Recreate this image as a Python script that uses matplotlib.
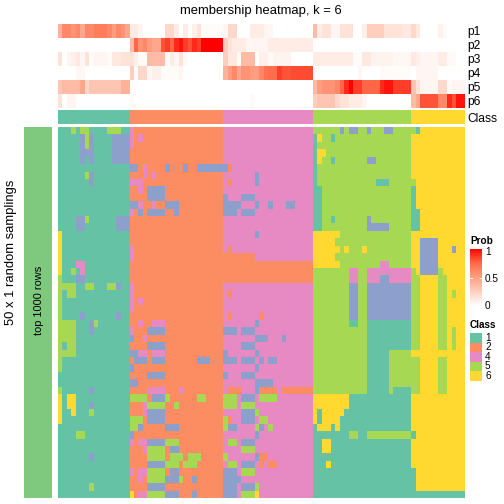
import numpy as np
import matplotlib
matplotlib.use("Agg")
import matplotlib.pyplot as plt
from matplotlib.colors import ListedColormap, LinearSegmentedColormap
from matplotlib.patches import Rectangle

plt.rcParams['font.family'] = ['Liberation Sans', 'DejaVu Sans']

# class colours (class 3 only shows up inside the samplings)
class_colors = {1: "#66C2A5", 2: "#FC8D62", 3: "#8DA0CB", 4: "#E78AC3", 5: "#A6D854", 6: "#FFD92F"}
legend_classes = [1, 2, 4, 5, 6]
class_sizes = [(1, 16), (2, 21), (4, 20), (5, 22), (6, 12)]   # columns per consensus class
prob_names = ["p1", "p2", "p3", "p4", "p5", "p6"]

# membership probabilities, split by class block
p1 = ([0.4, 0.6, 0.6, 0.55, 0.6, 0.45, 0.6, 0.6, 0.65, 0.65, 0.65, 0.6, 0.5, 0.6, 0.55, 0.45] +
      [0.1, 0.1, 0.05, 0, 0, 0, 0, 0, 0.2, 0.2, 0.1, 0, 0.1, 0, 0.08, 0.15, 0.02, 0.02, 0.02, 0.02, 0.02] +
      [0.05, 0.2, 0.2, 0, 0, 0, 0.1, 0.1, 0.1, 0.05, 0.05, 0, 0, 0, 0, 0, 0, 0, 0, 0] +
      [0.35, 0.1, 0.15, 0.15, 0.05, 0.05, 0.15, 0.15, 0.15, 0, 0, 0.08, 0.25, 0.25, 0.25, 0.25, 0.15, 0.15, 0.15, 0.15, 0.12, 0.12] +
      [0.2, 0.12, 0, 0, 0, 0, 0.07, 0.03, 0, 0, 0, 0])
p2 = ([0] * 16 +
      [0.35, 0.75, 0.55, 0.6, 0.5, 0.45, 0.45, 0.8, 0.85, 0.75, 0.9, 0.95, 0.85, 0.8, 0.9, 0.85, 1, 1, 1, 1, 1] +
      [0.25, 0.15, 0.1, 0.1, 0.1, 0.05, 0.05, 0.05, 0.05, 0.05, 0.1, 0.1, 0.1, 0.1, 0.1, 0.1, 0.1, 0.1, 0.1, 0.1] +
      [0] * 22 +
      [0] * 12)
p3 = ([0.15, 0, 0.05, 0.08, 0.12, 0.05, 0.15, 0.02, 0.05, 0.05, 0.05, 0.02, 0.12, 0.12, 0.15, 0.15] +
      [0.15, 0.08, 0.02, 0.02, 0.35, 0.35, 0.35, 0.35, 0.03, 0.1, 0.05, 0.15, 0.03, 0, 0, 0, 0, 0, 0, 0, 0] +
      [0.25, 0.12, 0.12, 0.03, 0.35, 0.35, 0.35, 0, 0.08, 0.08, 0.03, 0.06, 0.06, 0.06, 0.06, 0, 0, 0, 0, 0] +
      [0.1, 0.1, 0.1, 0.1, 0.1, 0.1, 0.1, 0.1, 0.1, 0.02, 0.02, 0.12, 0.12, 0.06, 0.06, 0.06, 0.06, 0.06, 0.04, 0.04, 0.04, 0.04] +
      [0.12, 0.08, 0.05, 0.05, 0.05, 0.05, 0.1, 0.1, 0.03, 0.03, 0, 0])
p4 = ([0, 0, 0, 0, 0.04, 0.04, 0, 0, 0, 0, 0, 0, 0, 0, 0, 0] +
      [0.25, 0.02, 0.2, 0.2, 0.05, 0.08, 0.08, 0.02, 0.02, 0.02, 0.02, 0.05, 0, 0, 0, 0, 0, 0, 0, 0, 0] +
      [0.4, 0.5, 0.6, 0.45, 0.55, 0.55, 0.5, 0.5, 0.6, 0.7, 0.72, 0.72, 0.85, 0.8, 0.8, 0.82, 0.82, 0.82, 0.82, 0.82] +
      [0, 0, 0, 0, 0, 0, 0, 0, 0, 0, 0.04, 0, 0, 0, 0, 0.02, 0.02, 0.02, 0.02, 0.02, 0.02, 0.02] +
      [0, 0.05, 0.05, 0.05, 0.05, 0.05, 0, 0, 0, 0, 0, 0])
p5 = ([0.3, 0.35, 0.35, 0.35, 0.35, 0.45, 0.2, 0.3, 0.3, 0.3, 0.3, 0.3, 0.3, 0.3, 0.4, 0.4] +
      [0] * 21 +
      [0] * 20 +
      [0.35, 0.5, 0.55, 0.55, 0.55, 0.6, 0.75, 0.9, 1.0, 0.85, 0.85, 0.75, 0.75, 0.75, 0.75, 0.9, 0.95, 0.95, 0.85, 0.85, 0.85, 0.85] +
      [0.3, 0.15, 0.05, 0.05, 0.05, 0.05, 0.2, 0.2, 0.02, 0.05, 0.05, 0.05])
p6 = ([0.15, 0, 0.05, 0.05, 0, 0, 0, 0, 0, 0, 0, 0, 0, 0, 0, 0] +
      [0.02] + [0] * 20 +
      [0, 0, 0, 0, 0, 0, 0.03, 0, 0, 0, 0, 0, 0, 0, 0, 0, 0, 0, 0, 0] +
      [0.25, 0.3, 0.3, 0.3, 0.3, 0.2, 0.15, 0.15, 0.1, 0.1, 0.1, 0.05, 0, 0, 0, 0, 0, 0, 0, 0, 0, 0] +
      [0.35, 0.45, 0.8, 0.8, 0.8, 0.8, 0.6, 0.6, 0.9, 0.8, 0.95, 0.95])

# class calls of the 50 random samplings (one string per sampling, blocks split by spaces)
samplings = [
    "1115155111155511 422222222222222222222 44444444444444444444 5555553533553555335555 516666666666",
    "1111135311113333 424222222222222222222 44444444444444444444 1655155555555555555555 666666666666",
    "1111135311113333 422222222222222222222 44444444444444444444 1555555555555555555555 666666666666",
    "1111133311113333 222222222222222222222 44444444444444444444 1665555555555555555555 666666666666",
    "1111131311113333 222222222222222222222 44444444444444444444 1655155555553355555555 666666666666",
    "1111111111111111 332422223222322333333 32444444444444444444 1555555555555555555555 666666666666",
    "1111115311111111 222424222222222222222 44444443444444444444 1555555555555555555555 666666666666",
    "1111111311111111 444222222222222222222 42444443444444444444 1555555555555511155555 566666666666",
    "1111111111111111 224233332222222222222 44444444444444444444 1155555555555555555555 166666666666",
    "1111111111111111 222233332222222222222 34443334444444444444 1155555555555555555555 166666666666",
    "1111111111111111 334224223332222222222 33334443443444334444 1155555555555555555555 166666666666",
    "1111111111111111 423233332232222222222 33343334444444444444 1155555555555555555555 116666666666",
    "1111335111111333 222222222222222222222 44444444444444444444 1155155555553555555555 116666666666",
    "1111331111111333 222222222222222222222 44444444444444444444 1155555555553333355555 116666666666",
    "6111111111111111 222222222222222222222 44444443444444444444 6666665555555555555555 666666666666",
    "6111111111111111 222222222222222222222 44444444444444444444 6666655555555555555555 663333666666",
    "6111111111111111 422222222222222222222 42444444444444444444 6666665655565555555555 663333666366",
    "6111111111111111 422222222222222222222 22222224444444444444 6666655555555555555555 663333666666",
    "6111441111111111 222222222222222222222 22222222222222222222 6666665555555554455555 663333666666",
    "6115141111111111 222222222222222222222 22222222222222222222 5555555544554444444444 563333566666",
    "5111331111111111 222222222222222222222 22222222222222222222 5555555544554443344444 556666556666",
    "5555115511155311 422222222222222222222 44444444444444444444 5555555533553333333333 556666556666",
    "5155111111111111 422222222222222222222 42444444444444444444 5555555533553333333333 556666556566",
    "5111111111111111 424222222222222222222 44444444444444444444 5555555533553333333333 556666556666",
    "5111111111111111 422222222222222222222 44444444444444444444 5555555533553333333333 556666556666",
    "5111131111111311 222222222222222222222 42444444244444444444 5555555533553333333333 556666556666",
    "5555111351111111 224224442222222222222 44444443444444444444 5555555511551111111111 556666556666",
    "5555111311111111 422233332222222222222 33343334444444444444 5555555555551111111111 556666556566",
    "5555111111111111 322422222222222222222 44444443334443444444 5555555555551111111111 556666556566",
    "5155111111111111 222233332222222222222 44443334444444444444 5555555555551111111111 556666556566",
    "5555111111111111 334424442222222222222 34444443444444444444 5555555555551111155555 666666666666",
    "5111111111111111 233323332222222333222 33343334343344444444 5555555555551111155555 556666556666",
    "5111111111111111 322222222222222222222 44444443444444444444 5555555555551111155555 556666556666",
    "1111111111111111 222233332222222222222 34443334444444444444 5555555555551111155555 556666556666",
    "1111111111111111 332222222222222222222 44444443333444444444 5555555555551111155555 556666556666",
    "5111111311111111 222244442224222222222 42224443222242222222 5555555555551111151111 556666556666",
    "6166111111111111 555523335222222552222 55543334555544444444 6666666611111111111111 666666666666",
    "6166111311111111 222455552252222222222 55545554444444444444 6666666611111111111111 666666666666",
    "6116111511111111 222433332222222222222 44443335444444444444 6166666111111111111111 666666666666",
    "6111111111111111 555233332222222222222 52443334554444444444 6166661111111111111111 666666666666",
    "1111111111111111 553222223332222222222 53344445345444444444 1666161111111111111111 666666666666",
    "1111551111111111 322222222222222222222 44444443444444444444 1111111155115555555555 166666666666",
    "1111111111111111 424433335552222222222 45543334444444444444 1166111111111111111111 666666666666",
    "1111111111111111 222455552332222222222 44445554444444444444 1166111111111111111111 666666666666",
    "1111111311111111 222255552555255522222 54444443224444444444 1111111111111111111111 666666666666",
    "1111111111111111 222233335552555222222 45543334242244444444 1116111111111111111111 666666666666",
    "1111111111111111 424455552332222222222 33345554444444444444 1111111111111111111111 166666666666",
    "1111111111111111 224255553335223222222 33334444444444444444 1111111111111111111111 166666666666",
    "1111111511111111 222233332222222222222 33343335444444444444 1111111111111111111111 166666666666",
    "1111111111111111 624455553332223222222 33345556444444444444 1111111111111111111111 111111111111",
]

# ---- build arrays
n_col = sum(n for _, n in class_sizes)
col_class = np.concatenate([[k] * n for k, n in class_sizes])
prob = np.array([p1, p2, p3, p4, p5, p6], dtype=float)
rows = []
for s in samplings:
    r = [int(c) for c in s.replace(" ", "")]
    if len(r) != n_col:
        print("row length", len(r))
        r = (r + [r[-1]] * n_col)[:n_col]
    rows.append(r)
grid = np.array(rows)

cls_cmap = ListedColormap([class_colors[k] for k in range(1, 7)])
prob_cmap = LinearSegmentedColormap.from_list(
    "prob", [(0, "#FFFFFF"), (0.25, "#FFCFBF"), (0.5, "#FF9E81"), (0.75, "#FF6846"), (1, "#FF0000")])

W = H = 504.0
fig = plt.figure(figsize=(7, 7), dpi=72)


def box(x0, y0, x1, y1):
    # pixel box (top-left origin) -> figure fraction rect
    return [x0 / W, 1 - y1 / H, (x1 - x0) / W, (y1 - y0) / H]


def clean(ax):
    ax.set_xticks([])
    ax.set_yticks([])
    for s in ax.spines.values():
        s.set_visible(False)


# membership heatmap
ax_mem = fig.add_axes(box(58, 24, 464, 108))
ax_mem.imshow(prob, cmap=prob_cmap, vmin=0, vmax=1, aspect="auto", interpolation="nearest")
clean(ax_mem)
ax_mem.yaxis.tick_right()
ax_mem.set_yticks(range(6))
ax_mem.set_yticklabels(prob_names, fontsize=12)
ax_mem.tick_params(axis="y", length=0, pad=3)
fig.text(261 / W, 1 - 11 / H, "membership heatmap, k = 6", fontsize=13, ha="center", va="center")

# class annotation
ax_cls = fig.add_axes(box(58, 110, 464, 124))
ax_cls.imshow(col_class[None, :], cmap=cls_cmap, vmin=0.5, vmax=6.5, aspect="auto", interpolation="nearest")
clean(ax_cls)
ax_cls.yaxis.tick_right()
ax_cls.set_yticks([0])
ax_cls.set_yticklabels(["Class"], fontsize=12)
ax_cls.tick_params(axis="y", length=0, pad=3)

# main samplings heatmap
ax_main = fig.add_axes(box(58, 127, 464, 498))
ax_main.imshow(grid, cmap=cls_cmap, vmin=0.5, vmax=6.5, aspect="auto", interpolation="nearest")
clean(ax_main)

# left row annotation bar
ax_bar = fig.add_axes(box(24, 127, 52, 498))
ax_bar.set_facecolor("#7FC97F")
clean(ax_bar)
fig.text(39 / W, 1 - 300 / H, "top 1000 rows", rotation=90, ha="center", va="center", fontsize=11)
fig.text(11 / W, 1 - 252 / H, "50 x 1 random samplings", rotation=90,
         ha="center", va="center", fontsize=13)

# Prob legend
fig.text(470 / W, 1 - 241 / H, "Prob", fontsize=10, fontweight="bold", ha="left", va="center")
ax_cb = fig.add_axes(box(470, 249, 482, 306))
ax_cb.imshow(np.linspace(1, 0, 100)[:, None], cmap=prob_cmap, vmin=0, vmax=1,
             aspect="auto", extent=[0, 1, 0, 1])
ax_cb.plot([0, 0.2], [0.5, 0.5], color="white", lw=1)
ax_cb.plot([0.8, 1], [0.5, 0.5], color="white", lw=1)
ax_cb.set_xlim(0, 1)
ax_cb.set_ylim(0, 1)
clean(ax_cb)
for v, lab in [(1, "1"), (0.5, "0.5"), (0, "0")]:
    fig.text(485 / W, 1 - (306 - v * 54) / H, lab, fontsize=10, ha="left", va="center")

# Class legend
fig.text(470 / W, 1 - 325 / H, "Class", fontsize=10, fontweight="bold", ha="left", va="center")
for i, k in enumerate(legend_classes):
    y0 = 333 + i * 9.5
    fig.add_artist(Rectangle((470 / W, 1 - (y0 + 9.5) / H), 12 / W, 9.5 / H,
                             transform=fig.transFigure, facecolor=class_colors[k], edgecolor="none"))
    fig.text(485 / W, 1 - (y0 + 4.75) / H, str(k), fontsize=10, ha="left", va="center")

fig.savefig("out.png", dpi=72)
